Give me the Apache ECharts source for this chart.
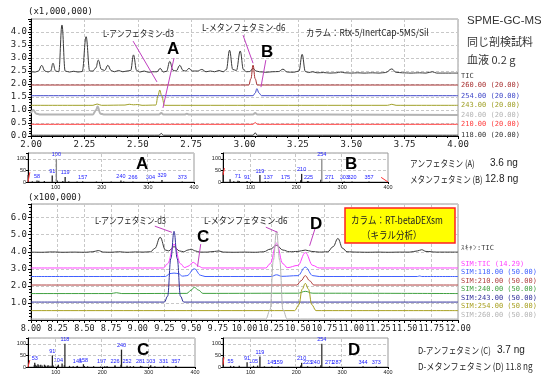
<!DOCTYPE html>
<html>
<head>
<meta charset="utf-8">
<script src="https://cdn.jsdelivr.net/npm/echarts@6.0.0/dist/echarts.min.js"></script>
<style>
html, body { margin: 0; padding: 0; background: #fff; }
#chart { width: 541px; height: 383px; }
</style>
</head>
<body>
<div id="chart"></div>
<script>
// ---- top chromatogram, Rtx-5 (x1,000,000), [min, intensity + trace offset]
var gcTic = [[2.00,2.47],[2.02,2.46],[2.035,2.5],[2.05,2.72],[2.065,2.5],[2.08,2.46],[2.092,2.5],[2.103,2.8],[2.115,2.5],[2.13,2.47],[2.145,4.27],[2.16,2.5],[2.18,2.46],[2.20,2.49],[2.22,2.46],[2.24,2.48],[2.258,3.82],[2.275,2.5],[2.29,2.5],[2.304,2.62],[2.315,2.92],[2.33,2.56],[2.345,2.52],[2.36,2.72],[2.375,2.52],[2.39,2.47],[2.41,2.52],[2.43,2.47],[2.45,2.5],[2.467,2.52],[2.48,3.12],[2.495,2.52],[2.51,2.46],[2.53,2.5],[2.55,2.45],[2.57,2.47],[2.59,2.47],[2.605,2.6],[2.62,2.46],[2.635,2.49],[2.65,2.87],[2.665,2.53],[2.68,2.5],[2.697,2.72],[2.712,2.52],[2.725,2.5],[2.74,2.6],[2.755,2.5],[2.78,2.5],[2.80,2.56],[2.82,2.47],[2.84,2.5],[2.86,2.47],[2.88,2.52],[2.90,2.47],[2.915,2.55],[2.93,3.3],[2.945,2.56],[2.962,2.52],[2.98,3.27],[2.995,2.55],[3.01,2.47],[3.025,2.48],[3.04,2.6],[3.055,2.5],[3.07,2.47],[3.10,2.45],[3.13,2.47],[3.16,2.48],[3.18,2.57],[3.20,2.46],[3.23,2.45],[3.255,2.5],[3.27,3.14],[3.285,2.48],[3.30,2.44],[3.32,2.47],[3.34,2.43],[3.37,2.44],[3.40,2.42],[3.43,2.43],[3.45,2.46],[3.47,2.43],[3.50,2.42],[3.53,2.43],[3.56,2.42],[3.60,2.43],[3.63,2.42],[3.66,2.44],[3.69,2.58],[3.71,2.45],[3.74,2.43],[3.78,2.42],[3.82,2.43],[3.85,2.42],[3.88,2.47],[3.90,2.42],[3.94,2.42],[3.97,2.42],[4.00,2.42]];
var gc260 = [[2.00,1.96],[3.02,1.96],[3.03,2.2],[3.04,2.73],[3.05,2.2],[3.06,1.96],[4.00,1.96]];
var gc254 = [[2.00,1.55],[3.04,1.55],[3.05,1.65],[3.058,1.82],[3.068,1.65],[3.08,1.55],[4.00,1.55]];
var gc243 = [[2.00,1.18],[2.29,1.18],[2.31,1.23],[2.33,1.18],[2.44,1.19],[2.46,1.22],[2.48,1.2],[2.50,1.21],[2.52,1.18],[2.585,1.19],[2.595,1.55],[2.603,1.77],[2.612,1.55],[2.625,1.18],[3.67,1.18],[3.69,1.22],[3.71,1.18],[4.00,1.18]];
var gc240 = [[2.00,0.88],[2.01,1.0],[2.025,0.86],[2.04,0.83],[2.29,0.83],[2.305,1.0],[2.312,1.13],[2.325,0.86],[2.34,0.83],[2.60,0.83],[2.61,0.88],[2.62,0.83],[2.72,0.83],[2.73,0.86],[2.74,0.83],[3.04,0.83],[3.05,0.88],[3.06,0.83],[4.00,0.81]];
var gc210 = [[2.00,0.45],[3.04,0.45],[3.05,0.52],[3.06,0.45],[4.00,0.45]];
var gc118 = [[2.00,0.03],[2.60,0.03],[2.61,0.1],[2.62,0.03],[3.04,0.03],[3.05,0.12],[3.06,0.03],[4.00,0.03]];

// ---- bottom chromatogram, RT-betaDEXsm (x100,000)
var cTic = [[8.00,3.98],[8.10,3.97],[8.20,3.99],[8.30,3.97],[8.40,3.98],[8.50,3.97],[8.58,4.0],[8.63,4.07],[8.68,3.98],[8.75,3.97],[8.82,4.0],[8.90,3.97],[8.98,3.99],[9.05,3.98],[9.12,4.0],[9.16,4.2],[9.21,4.85],[9.26,4.1],[9.29,4.05],[9.34,4.3],[9.39,4.05],[9.43,4.0],[9.47,4.1],[9.50,4.15],[9.54,4.05],[9.58,3.98],[9.65,3.98],[9.72,4.02],[9.76,4.05],[9.80,3.98],[9.90,3.97],[10.00,3.98],[10.10,3.97],[10.18,4.0],[10.24,4.15],[10.30,4.38],[10.36,4.1],[10.42,4.0],[10.50,4.02],[10.57,4.1],[10.63,4.02],[10.70,3.98],[10.78,4.0],[10.83,4.3],[10.875,4.78],[10.92,4.2],[10.96,4.0],[11.05,3.98],[11.15,3.97],[11.25,3.98],[11.35,3.97],[11.45,3.98],[11.55,3.98],[11.62,4.05],[11.66,4.12],[11.70,4.02],[11.80,3.98],[11.90,3.98],[12.00,3.98]];
var cSimTic = [[8.00,3.05],[9.24,3.05],[9.28,3.3],[9.34,4.45],[9.40,3.3],[9.44,3.07],[9.47,3.15],[9.52,3.38],[9.57,3.15],[9.61,3.05],[10.20,3.05],[10.24,3.3],[10.30,4.5],[10.36,3.3],[10.40,3.07],[10.50,3.2],[10.57,3.95],[10.64,3.2],[10.70,3.05],[12.00,3.05]];
var c118 = [[8.00,2.55],[9.26,2.55],[9.30,2.72],[9.34,2.75],[9.38,2.72],[9.42,2.57],[9.46,2.6],[9.53,3.0],[9.59,2.62],[9.63,2.55],[10.25,2.55],[10.30,2.65],[10.35,2.56],[10.50,2.6],[10.57,3.1],[10.64,2.6],[10.70,2.55],[11.62,2.55],[11.64,2.58],[11.66,2.55],[12.00,2.55]];
var c210 = [[8.00,2.05],[10.49,2.05],[10.53,2.3],[10.57,2.6],[10.61,2.3],[10.65,2.05],[12.00,2.05]];
var c240 = [[8.00,1.55],[8.75,1.55],[8.80,1.6],[8.85,1.55],[9.46,1.56],[9.50,1.75],[9.53,1.92],[9.57,1.75],[9.61,1.56],[10.50,1.57],[10.57,1.68],[10.64,1.57],[12.00,1.55]];
var c243 = [[8.00,1.05],[9.25,1.05],[9.28,1.4],[9.31,3.6],[9.34,5.2],[9.37,3.6],[9.40,1.4],[9.43,1.05],[12.00,1.05]];
var c254 = [[8.00,0.55],[10.47,0.55],[10.51,0.9],[10.54,1.8],[10.57,2.15],[10.60,1.8],[10.63,0.9],[10.67,0.55],[12.00,0.55]];
var c260 = [[8.00,0.06],[10.20,0.06],[10.24,0.6],[10.27,3.5],[10.30,5.2],[10.33,3.5],[10.36,0.6],[10.40,0.06],[12.00,0.06]];

// ---- mass spectra [m/z, relative intensity]
var msA = [[58,6],[91,28],[100,100],[119,22],[157,3],[240,7],[266,2],[304,2],[329,9],[373,2]];
var msAMinor = [[42,30],[51,3],[65,5],[77,4],[105,6],[117,4],[130,3],[148,2],[190,2],[222,2],[249,2],[313,2]];
var msAEdge = [[40,0],[44,42]];
var msAEdgeLabel = '43';
var msB = [[71,5],[91,4],[119,30],[137,2],[175,2],[210,35],[225,3],[254,100],[271,2],[303,2],[320,2],[357,2]];
var msBMinor = [[42,45],[57,12],[65,3],[77,4],[105,3],[134,3],[211,8],[226,4],[255,10]];
var msBEdge = [[40,30],[43,60]];
var msBEdgeLabel = '42';
var msBEdge2 = [[385,20],[400,0]];
var msBEdge2Label = '385';
var msC = [[53,18],[91,50],[104,10],[118,100],[145,5],[158,12],[197,5],[226,8],[240,75],[252,5],[281,5],[303,8],[331,5],[357,5]];
var msCMinor = [[55,8],[57,10],[60,6],[63,12],[65,8],[69,10],[72,6],[77,10],[79,6],[83,5],[85,8],[89,5],[93,5],[96,6],[105,5],[115,15],[120,8],[131,5],[139,3],[147,3],[163,4],[170,3],[183,4],[199,3],[207,3],[212,4],[229,4],[242,10],[262,3],[269,4],[287,3],[305,3],[315,3],[343,3],[361,3]];
var msCEdge = [[40,0],[44,30]];
var msCEdgeLabel = '44';
var msD = [[55,5],[91,20],[105,5],[119,45],[145,3],[159,3],[210,18],[223,3],[240,3],[254,100],[271,3],[287,2],[344,3],[373,3]];
var msDMinor = [[42,40],[65,4],[77,5],[117,6],[132,3],[211,6],[255,8]];
var msDEdge = [[40,10],[42,42]];
var msDEdgeLabel = '42';

var mono = '"DejaVu Sans Mono"';
var jp = '"Noto Sans CJK JP"';
var dash = {show: true, lineStyle: {color: '#c8c8c8', type: [3, 2], width: 1}};

function trace(data, color, grid, name, width, offset) {
    return {
        type: 'line',
        xAxisIndex: grid, yAxisIndex: grid,
        data: data,
        smooth: 0.4,
        smoothMonotone: 'x',
        showSymbol: false,
        silent: true,
        lineStyle: {color: color, width: width || 1},
        endLabel: {
            show: true,
            formatter: name,
            color: color,
            fontFamily: mono,
            fontSize: 7,
            distance: 3,
            offset: offset || [0, 0]
        },
        z: 3
    };
}

function bars(data, grid, withLabel, base) {
    return {
        type: 'bar',
        xAxisIndex: grid, yAxisIndex: grid,
        data: data,
        barWidth: 1.3,
        silent: true,
        itemStyle: {color: function (p) { return p.value[1] === 100 ? base : '#222'; }},
        label: {
            show: withLabel,
            position: 'top',
            distance: 1,
            formatter: function (p) { return p.value[0]; },
            color: '#1a1aff',
            fontSize: 5.5,
            fontFamily: 'Liberation Sans'
        }
    };
}

function edge(data, grid, text, idx) {
    return {
        type: 'line',
        xAxisIndex: grid, yAxisIndex: grid,
        data: data,
        showSymbol: false,
        silent: true,
        lineStyle: {color: '#ff3030', width: 1},
        label: {
            show: true,
            position: 'top',
            distance: 1,
            formatter: function (p) { return p.dataIndex === idx ? text : ''; },
            color: '#1a1aff',
            fontSize: 5.5,
            fontFamily: 'Liberation Sans'
        },
        symbolSize: 0.1
    };
}

function vgrid() {
    return {
        silent: true, symbol: ['none', 'none'],
        lineStyle: {color: '#c8c8c8', type: [3, 2], width: 1},
        label: {show: false},
        data: [{xAxis: 100}, {xAxis: 200}, {xAxis: 300}]
    };
}

var leader = {color: '#c040c0', width: 1, type: 'solid'};

var grids = [
    {left: 31, top: 19, width: 427, height: 117},
    {left: 28, top: 153, width: 166, height: 29},
    {left: 223, top: 153, width: 165, height: 29},
    {left: 31, top: 204, width: 427, height: 116},
    {left: 28, top: 338, width: 167, height: 29},
    {left: 223, top: 338, width: 165, height: 29}
];
grids.forEach(function (g) { g.show = true; g.borderColor = '#999'; g.borderWidth = 1; });

function chromX(grid, min, max, size) {
    return {
        type: 'value', gridIndex: grid, min: min, max: max, interval: 0.25,
        axisLine: {lineStyle: {color: '#000'}},
        axisTick: {length: 3, lineStyle: {color: '#000'}},
        minorTick: {show: true, splitNumber: 5, length: 2, lineStyle: {color: '#000'}},
        axisLabel: {fontFamily: mono, fontSize: size, color: '#222', margin: 4,
            formatter: function (v) { return v.toFixed(2); }},
        splitLine: dash
    };
}
function chromY(grid, max, interval, hide) {
    return {
        type: 'value', gridIndex: grid, min: 0, max: max, interval: interval,
        axisLine: {show: true, lineStyle: {color: '#000'}},
        axisTick: {show: true, length: 3, lineStyle: {color: '#000'}},
        minorTick: {show: true, splitNumber: 5, length: 2, lineStyle: {color: '#000'}},
        axisLabel: {fontFamily: mono, fontSize: 9, color: '#222', margin: 4,
            formatter: function (v) { return hide(v) ? '' : v.toFixed(1); }},
        splitLine: dash
    };
}
function specX(grid) {
    return {
        type: 'value', gridIndex: grid, min: 40, max: 400,
        axisLine: {lineStyle: {color: '#000'}},
        axisTick: {length: 2, customValues: [100, 200, 300, 400], lineStyle: {color: '#000'}},
        axisLabel: {fontSize: 5.5, color: '#222', margin: 2, fontFamily: 'Liberation Sans',
            customValues: [100, 200, 300, 400]},
        splitLine: {show: false}
    };
}
function specY(grid) {
    return {
        type: 'value', gridIndex: grid, min: 0, max: 125, interval: 50,
        axisLine: {show: true, lineStyle: {color: '#000'}},
        axisTick: {show: true, length: 2, lineStyle: {color: '#000'}},
        axisLabel: {fontSize: 5.5, color: '#222', margin: 2, fontFamily: 'Liberation Sans',
            formatter: function (v) { return v > 100 ? '' : v; }},
        splitLine: dash
    };
}

function txt(x, y, text, font, color, sx, weight) {
    return {
        type: 'text', x: x, y: y, scaleX: sx || 1, z: 120,
        style: {text: text, font: (weight || '') + ' ' + font, fill: color || '#222', verticalAlign: 'middle'}
    };
}

var ticSeries = trace(gcTic, '#3a3a3a', 0, 'TIC', 1, [0, 3]);
ticSeries.markLine = {
    silent: true, symbol: ['none', 'none'], label: {show: false}, lineStyle: leader,
    data: [
        [{coord: [2.478, 3.65]}, {coord: [2.59, 2.08]}],
        [{coord: [2.67, 3.0]}, {coord: [2.618, 1.08]}],
        [{coord: [2.993, 3.88]}, {coord: [3.04, 2.8]}],
        [{coord: [3.10, 2.92]}, {coord: [3.077, 1.88]}]
    ]
};
var cTicSeries = trace(cTic, '#3a3a3a', 3, 'ｽｷｬﾝ:TIC', 1, [0, -4]);
cTicSeries.markLine = {
    silent: true, symbol: ['none', 'none'], label: {show: false}, lineStyle: leader,
    data: [
        [{coord: [9.16, 5.5]}, {coord: [9.32, 5.14]}],
        [{coord: [9.59, 4.45]}, {coord: [9.56, 3.13]}],
        [{coord: [10.2, 5.44]}, {coord: [10.31, 5.14]}],
        [{coord: [10.66, 5.34]}, {coord: [10.61, 4.35]}]
    ]
};

var minorA = bars(msAMinor, 1, false, '#888'); minorA.markLine = vgrid();
var minorB = bars(msBMinor, 2, false, '#888'); minorB.markLine = vgrid();
var minorC = bars(msCMinor, 4, false, '#333'); minorC.markLine = vgrid();
var minorD = bars(msDMinor, 5, false, '#333'); minorD.markLine = vgrid();

var option = {
    animation: false,
    backgroundColor: '#fff',
    grid: grids,
    xAxis: [chromX(0, 2, 4, 9), specX(1), specX(2), chromX(3, 8, 12, 8.5), specX(4), specX(5)],
    yAxis: [
        chromY(0, 4.5, 0.5, function (v) { return v > 4.2; }),
        specY(1), specY(2),
        chromY(3, 6.8, 1, function (v) { return v === 0 || v > 6.5; }),
        specY(4), specY(5)
    ],
    series: [
        ticSeries,
        trace(gc260, '#a83232', 0, '260.00 (20.00)'),
        trace(gc254, '#4048c8', 0, '254.00 (20.00)'),
        trace(gc243, '#a0a028', 0, '243.00 (20.00)'),
        trace(gc240, '#b4b4b4', 0, '240.00 (20.00)', 2),
        trace(gc210, '#ff3c3c', 0, '210.00 (20.00)'),
        trace(gc118, '#333333', 0, '118.00 (20.00)'),
        minorA, bars(msA, 1, true, '#888'), edge(msAEdge, 1, msAEdgeLabel, 1),
        minorB, bars(msB, 2, true, '#888'), edge(msBEdge, 2, msBEdgeLabel, 1), edge(msBEdge2, 2, msBEdge2Label, 0),
        cTicSeries,
        trace(cSimTic, '#ff40ff', 3, 'SIM:TIC (14.29)', 1, [0, -4]),
        trace(c118, '#4060ff', 3, 'SIM:118.00 (50.00)', 1, [0, -4]),
        trace(c210, '#b04040', 3, 'SIM:210.00 (50.00)', 1, [0, -4]),
        trace(c240, '#40a040', 3, 'SIM:240.00 (50.00)', 1, [0, -4]),
        trace(c243, '#30309a', 3, 'SIM:243.00 (50.00)', 1, [0, -4]),
        trace(c254, '#a8a020', 3, 'SIM:254.00 (50.00)', 1, [0, -4]),
        trace(c260, '#b4b4b4', 3, 'SIM:260.00 (50.00)', 1, [0, -4]),
        minorC, bars(msC, 4, true, '#333'), edge(msCEdge, 4, msCEdgeLabel, 1),
        minorD, bars(msD, 5, true, '#333'), edge(msDEdge, 5, msDEdgeLabel, 1)
    ],
    graphic: [
        txt(28, 12, '(x1,000,000)', '9px ' + mono),
        txt(467, 21, 'SPME-GC-MS', '11.5px "Liberation Sans"', '#333'),
        txt(467, 42, '同じ剖検試料', '11px ' + jp, '#333'),
        txt(467, 60, '血液 0.2 g', '11px ' + jp, '#333'),
        txt(306, 32, 'カラム：Rtx-5/InertCap-5MS/Sil', '9.5px ' + jp, '#222', 0.88),
        txt(103, 33, 'L-アンフェタミン-d3', '9.5px ' + jp, '#222', 0.8),
        txt(202, 27, 'L-メタンフェタミン-d6', '9.5px ' + jp, '#222', 0.85),
        txt(167, 49, 'A', '17px "Liberation Sans"', '#000', 1, 'bold'),
        txt(261, 52, 'B', '17px "Liberation Sans"', '#000', 1, 'bold'),
        txt(136, 164, 'A', '17px "Liberation Sans"', '#000', 1, 'bold'),
        txt(345, 164, 'B', '17px "Liberation Sans"', '#000', 1, 'bold'),
        txt(410, 163, 'アンフェタミン (A)', '9.5px ' + jp, '#222', 0.8),
        txt(490, 163, '3.6 ng', '10px "Liberation Sans"', '#222'),
        txt(410, 179, 'メタンフェタミン (B)', '9.5px ' + jp, '#222', 0.8),
        txt(485, 179, '12.8 ng', '10px "Liberation Sans"', '#222'),
        txt(28, 198, '(x100,000)', '9px ' + mono),
        {type: 'rect', z: 110, shape: {x: 345, y: 208, width: 110, height: 35},
            style: {fill: '#ffff00', stroke: '#ff2020', lineWidth: 1.5}},
        txt(351, 220, 'カラム：RT-betaDEXsm', '10px ' + jp, '#222', 0.85),
        txt(362, 235, '（キラル分析）', '10px ' + jp, '#222', 0.85),
        txt(95, 220, 'L-アンフェタミン-d3', '9.5px ' + jp, '#222', 0.8),
        txt(204, 220, 'L-メタンフェタミン-d6', '9.5px ' + jp, '#222', 0.85),
        txt(197, 237, 'C', '17px "Liberation Sans"', '#000', 1, 'bold'),
        txt(310, 224, 'D', '17px "Liberation Sans"', '#000', 1, 'bold'),
        txt(137, 350, 'C', '17px "Liberation Sans"', '#000', 1, 'bold'),
        txt(348, 350, 'D', '17px "Liberation Sans"', '#000', 1, 'bold'),
        txt(418, 350, 'D-アンフェタミン (C)', '9.5px ' + jp, '#222', 0.8),
        txt(497, 350, '3.7 ng', '10px "Liberation Sans"', '#222'),
        txt(418, 366, 'D-メタンフェタミン (D) 11.8 ng', '9.5px ' + jp, '#222', 0.85)
    ]
};

var chart = echarts.init(document.getElementById('chart'));
chart.setOption(option);
</script>
</body>
</html>
